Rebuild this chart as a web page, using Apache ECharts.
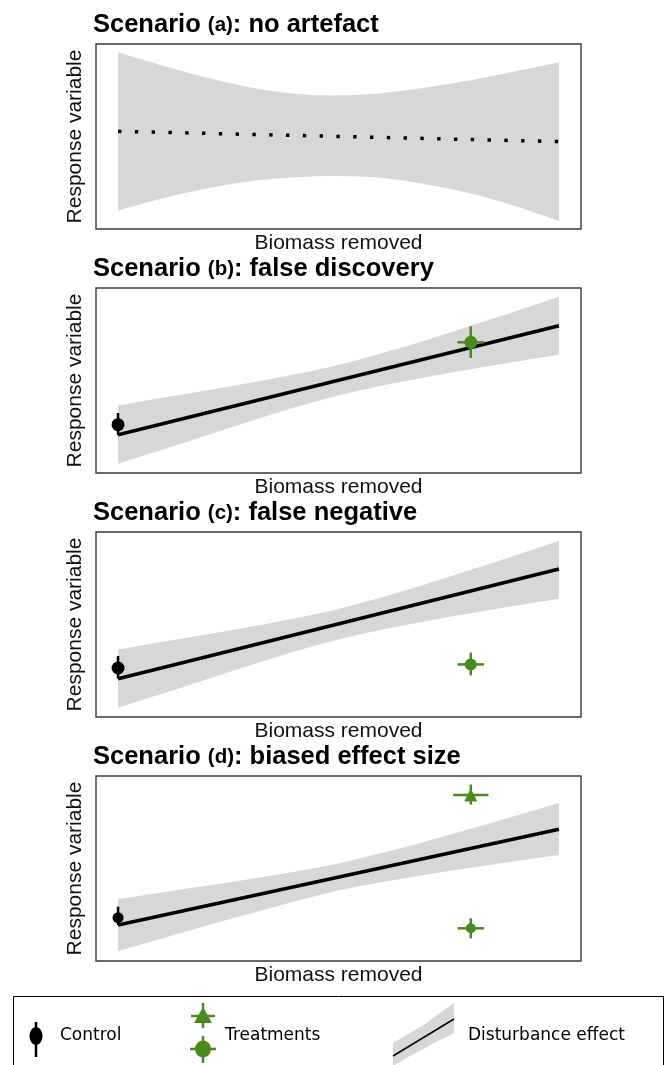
<!DOCTYPE html>
<html>
<head>
<meta charset="utf-8">
<script src="https://cdn.jsdelivr.net/npm/echarts@6/dist/echarts.min.js"></script>
<style>
html,body{margin:0;padding:0;background:#fff;}
#chart{width:667px;height:1065px;}
</style>
</head>
<body>
<div id="chart"></div>
<script>
// ---- data (arbitrary response units, 0..185 per panel; x = biomass removed 0..1) ----
const bandX = [0, 0.1, 0.2, 0.3, 0.4, 0.5, 0.6, 0.7, 0.8, 0.9, 1];

const bandA_upper = [176.7, 163.5, 151.5, 141.5, 135.3, 133.4, 136, 141.5, 148.8, 157.5, 166.7];
const bandA_lower = [18.4, 30.5, 40.5, 47.8, 51.7, 53, 51, 44.5, 35.5, 23, 8];
const lineA = [[0, 97.7], [1, 87.4]];

const bandB_upper = [67.3, 75.2, 82.6, 90.3, 98.4, 108, 120, 133.1, 147.2, 161.6, 176.3];
const bandB_lower = [9.3, 23.2, 37.6, 51.7, 65.4, 77.6, 87.4, 96.1, 103.8, 111.2, 118.3];
const lineB = [[0, 38.3], [1, 147.3]];

const bandC_upper = [67.3, 75.2, 82.6, 90.3, 98.4, 108, 120, 133.1, 147.2, 161.6, 176.3];
const bandC_lower = [9.3, 23.2, 37.6, 51.7, 65.4, 77.6, 87.4, 96.1, 103.8, 111.2, 118.3];
const lineC = [[0, 38.3], [1, 148]];

const bandD_upper = [62, 68.6, 75.2, 82.1, 89.2, 97.5, 108.2, 119.8, 132.3, 145, 158];
const bandD_lower = [10, 22.6, 35.2, 47.5, 59.6, 70.5, 79, 86.6, 93.3, 99.8, 106];
const lineD = [[0, 36], [1, 131.7]];

// points: [x, y, xLow, xHigh, yLow, yHigh]
const controlB = [[0, 48.3, 0, 0, 38, 60]];
const controlC = [[0, 49, 0, 0, 38.3, 61]];
const controlD = [[0, 43.3, 0, 0, 36, 54.3]];
const treatCircleB = [[0.8, 130.7, 0.77, 0.83, 115, 146.7]];
const treatCircleC = [[0.8, 52.6, 0.77, 0.83, 41.6, 64.3]];
const treatCircleD = [[0.8, 32.7, 0.77, 0.83, 22.7, 42.7]];
const treatTriangleD = [[0.8, 166, 0.76, 0.84, 156.5, 176.5]];

const titles = ['no artefact', 'false discovery', 'false negative', 'biased effect size'];
const letters = ['(a)', '(b)', '(c)', '(d)'];
const xName = 'Biomass removed';
const yName = 'Response variable';

// ---- styling ----
const GREEN = '#4a8b20';
const GREY = '#d7d7d7';
const SANS = '"Liberation Sans", Arial, sans-serif';
const LEG = '"DejaVu Sans", sans-serif';
const tops = [44, 288, 532, 776];
const H = 185;

const grids = tops.map(t => ({left: 96, top: t, width: 485, height: H, show: true,
  borderColor: '#3a3a3a', borderWidth: 1.4, backgroundColor: 'transparent'}));
const xAxes = tops.map((t, i) => ({gridIndex: i, type: 'value', min: -0.05, max: 1.05,
  axisLine: {show: false}, axisTick: {show: false}, axisLabel: {show: false}, splitLine: {show: false},
  name: xName, nameLocation: 'middle', nameGap: 4,
  nameTextStyle: {fontFamily: SANS, fontSize: 21, color: '#111', verticalAlign: 'top'}}));
const yAxes = tops.map((t, i) => ({gridIndex: i, type: 'value', min: 0, max: 185,
  axisLine: {show: false}, axisTick: {show: false}, axisLabel: {show: false}, splitLine: {show: false},
  name: yName, nameLocation: 'middle', nameGap: 10,
  nameTextStyle: {fontFamily: SANS, fontSize: 21, color: '#111'}}));

// Catmull-Rom -> cubic bezier path through pixel points
function curve(p, start) {
  let s = start ? 'M' + p[0][0] + ',' + p[0][1] : 'L' + p[0][0] + ',' + p[0][1];
  for (let i = 0; i < p.length - 1; i++) {
    const p0 = p[Math.max(i - 1, 0)], p1 = p[i], p2 = p[i + 1], p3 = p[Math.min(i + 2, p.length - 1)];
    const c1 = [p1[0] + (p2[0] - p0[0]) / 6, p1[1] + (p2[1] - p0[1]) / 6];
    const c2 = [p2[0] - (p3[0] - p1[0]) / 6, p2[1] - (p3[1] - p1[1]) / 6];
    s += 'C' + c1[0] + ',' + c1[1] + ',' + c2[0] + ',' + c2[1] + ',' + p2[0] + ',' + p2[1];
  }
  return s;
}

const series = [];
function band(i, up, lo) {
  const data = bandX.map((x, k) => [x, lo[k], up[k]]);
  series.push({type: 'custom', xAxisIndex: i, yAxisIndex: i, data: data, silent: true, z: 1,
    encode: {x: 0, y: [1, 2]},
    renderItem: function (params, api) {
      if (params.dataIndex !== 0) return null;
      const upper = data.map(d => api.coord([d[0], d[2]]));
      const lower = data.map(d => api.coord([d[0], d[1]])).reverse();
      const path = curve(upper, true) + curve(lower, false) + 'Z';
      return {type: 'path', shape: {pathData: path}, style: {fill: GREY, stroke: null}};
    }});
}
function fit(i, d, dotted) {
  series.push({type: 'line', xAxisIndex: i, yAxisIndex: i, data: d, symbol: 'none', silent: true, z: 3,
    lineStyle: {color: '#000', width: 3.5, type: dotted ? [3.4, 13.4] : 'solid', cap: 'butt'}});
}
function errbars(i, d, color) {
  series.push({type: 'custom', xAxisIndex: i, yAxisIndex: i, data: d, silent: true, z: 4,
    encode: {x: 0, y: 1},
    renderItem: function (params, api) {
      const x = api.value(0), y = api.value(1);
      const xl = api.value(2), xh = api.value(3), yl = api.value(4), yh = api.value(5);
      const ch = [];
      const a = api.coord([x, yl]), b = api.coord([x, yh]);
      ch.push({type: 'line', shape: {x1: a[0], y1: a[1], x2: b[0], y2: b[1]},
        style: {stroke: color, lineWidth: 2.5}});
      if (xh > xl) {
        const c = api.coord([xl, y]), e = api.coord([xh, y]);
        ch.push({type: 'line', shape: {x1: c[0], y1: c[1], x2: e[0], y2: e[1]},
          style: {stroke: color, lineWidth: 2.5}});
      }
      return {type: 'group', children: ch};
    }});
}
function pts(i, d, color, sym, size) {
  series.push({type: 'scatter', xAxisIndex: i, yAxisIndex: i, data: d.map(p => [p[0], p[1]]),
    symbol: sym, symbolSize: size, itemStyle: {color: color, opacity: 1}, silent: true, z: 5});
}

band(0, bandA_upper, bandA_lower); fit(0, lineA, true);
band(1, bandB_upper, bandB_lower); fit(1, lineB, false);
errbars(1, controlB, '#000'); pts(1, controlB, '#000', 'circle', 13);
errbars(1, treatCircleB, GREEN); pts(1, treatCircleB, GREEN, 'circle', 13);
band(2, bandC_upper, bandC_lower); fit(2, lineC, false);
errbars(2, controlC, '#000'); pts(2, controlC, '#000', 'circle', 13);
errbars(2, treatCircleC, GREEN); pts(2, treatCircleC, GREEN, 'circle', 12);
band(3, bandD_upper, bandD_lower); fit(3, lineD, false);
errbars(3, controlD, '#000'); pts(3, controlD, '#000', 'circle', 11);
errbars(3, treatCircleD, GREEN); pts(3, treatCircleD, GREEN, 'circle', 10);
errbars(3, treatTriangleD, GREEN); pts(3, treatTriangleD, GREEN, 'triangle', 13);

const titleOpts = tops.map((t, i) => ({left: 93, top: t - 34, padding: 0,
  text: '{b|Scenario }{s|' + letters[i] + '}{b|: ' + titles[i] + '}',
  textStyle: {rich: {
    b: {fontFamily: SANS, fontSize: 25.5, fontWeight: 'bold', color: '#000', lineHeight: 30},
    s: {fontFamily: SANS, fontSize: 20.5, fontWeight: 'bold', color: '#000', lineHeight: 30}
  }}}));

const legendGraphic = [
  {type: 'rect', shape: {x: 13.5, y: 996.5, width: 650, height: 120}, style: {fill: '#fff', stroke: '#000', lineWidth: 1}, z: 10},
  {type: 'line', shape: {x1: 36, y1: 1022, x2: 36, y2: 1057}, style: {stroke: '#000', lineWidth: 2.5}, z: 11},
  {type: 'ellipse', shape: {cx: 36, cy: 1036, rx: 6.5, ry: 9}, style: {fill: '#000'}, z: 11},
  {type: 'text', x: 60, y: 1036, style: {text: 'Control', font: '17px ' + LEG, fill: '#000', verticalAlign: 'middle'}, z: 11},
  {type: 'line', shape: {x1: 191, y1: 1016, x2: 215, y2: 1016}, style: {stroke: GREEN, lineWidth: 2.5}, z: 11},
  {type: 'line', shape: {x1: 203, y1: 1003, x2: 203, y2: 1028}, style: {stroke: GREEN, lineWidth: 2.5}, z: 11},
  {type: 'polygon', shape: {points: [[203, 1007], [212, 1023], [194, 1023]]}, style: {fill: GREEN}, z: 11},
  {type: 'line', shape: {x1: 190, y1: 1049, x2: 216, y2: 1049}, style: {stroke: GREEN, lineWidth: 2.5}, z: 11},
  {type: 'line', shape: {x1: 203, y1: 1036, x2: 203, y2: 1063}, style: {stroke: GREEN, lineWidth: 2.5}, z: 11},
  {type: 'ellipse', shape: {cx: 203, cy: 1049, rx: 8, ry: 8.5}, style: {fill: GREEN}, z: 11},
  {type: 'text', x: 225, y: 1036, style: {text: 'Treatments', font: '17px ' + LEG, fill: '#000', verticalAlign: 'middle'}, z: 11},
  {type: 'polygon', shape: {points: [[393, 1043], [410, 1033], [425, 1024], [440, 1013], [454, 1003],
    [454, 1033], [440, 1040], [425, 1048], [410, 1056], [393, 1066]]}, style: {fill: GREY}, z: 11},
  {type: 'line', shape: {x1: 393, y1: 1056, x2: 454, y2: 1019}, style: {stroke: '#000', lineWidth: 1.5}, z: 12},
  {type: 'text', x: 468, y: 1036, style: {text: 'Disturbance effect', font: '17px ' + LEG, fill: '#000', verticalAlign: 'middle'}, z: 11}
];

const chart = echarts.init(document.getElementById('chart'), null, {renderer: 'canvas'});
chart.setOption({
  animation: false,
  backgroundColor: '#fff',
  title: titleOpts,
  grid: grids,
  xAxis: xAxes,
  yAxis: yAxes,
  series: series,
  graphic: legendGraphic
});
</script>
</body>
</html>
